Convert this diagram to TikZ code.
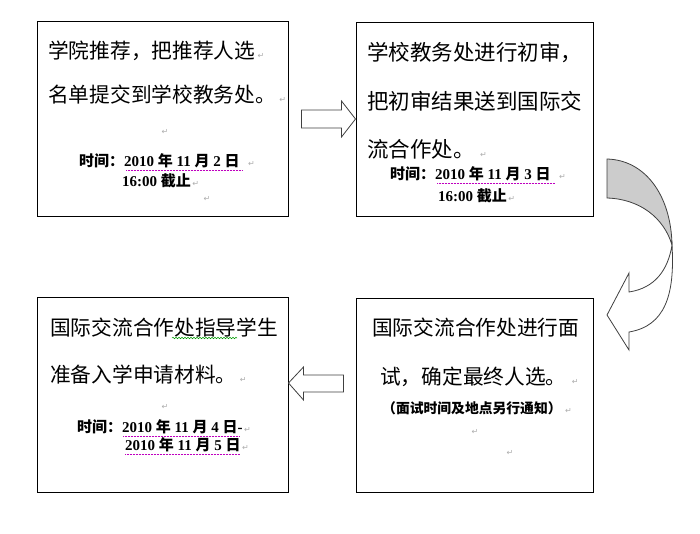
\documentclass[tikz,border=0pt]{standalone}
\usepackage{fontspec}
\setmainfont{Liberation Serif}
\newfontfamily\cjk{Noto Sans CJK SC}
\newfontfamily\sym{DejaVu Sans}
\usetikzlibrary{shapes.arrows,decorations.pathmorphing}
\newcommand\zh[1]{{\cjk #1}}

\tikzset{
  box/.style={draw, line width=1pt, inner sep=0pt},
  big/.style={anchor=base west, inner sep=0pt, font=\cjk\fontsize{20.7}{24}\selectfont},
  small/.style={anchor=base west, inner sep=0pt, font=\bfseries\fontsize{15}{18}\selectfont},
  pmark/.style={inner sep=0pt, text=gray!65, font=\sym\fontsize{8}{9}\selectfont},
  blk/.style={draw=black!75, line width=0.8pt, fill=white, line join=miter},
  spell/.style={densely dotted, line width=0.5pt, draw=violet!50!magenta},
}

\begin{document}
\begin{tikzpicture}[x=1pt,y=-1pt]
\useasboundingbox (0,0) rectangle (700,533);

\begin{scope}[scale=1]

% boxes
\node[box, minimum width=251pt, minimum height=195pt] (b1) at (162.5,118.5) {};
\node[box, minimum width=237pt, minimum height=194pt] (b2) at (474.5,119) {};
\node[box, minimum width=251pt, minimum height=195pt] (b3) at (162.5,394.5) {};
\node[box, minimum width=237pt, minimum height=194pt] (b4) at (474.5,395) {};

% box 1
\node[big] (a1) at (48,58) {学院推荐，把推荐人选};
\node[pmark, anchor=base west, xshift=2pt] at (a1.base east) {↵};
\node[big] (a2) at (48,102) {名单提交到学校教务处。};
\node[pmark, anchor=base west, xshift=3pt] at (a2.base east) {↵};
\node[pmark] at (165,132) {↵};
\node[small] (a3) at (79,166.5) {\zh{时间：}2010 \zh{年} 11 \zh{月} 2 \zh{日}};
\node[pmark, anchor=base west, xshift=8pt] at (a3.base east) {↵};
\node[small] (a4) at (122,186.5) {16:00 \zh{截止}};
\node[pmark, anchor=base west, xshift=1pt] at (a4.base east) {↵};
\node[pmark] at (207,199) {↵};
\draw[spell] (126,170.5) -- (243,170.5);

% box 2
\node[big, font=\cjk\fontsize{21.5}{24}\selectfont] (c1) at (367,60) {学校教务处进行初审，};
\node[big, font=\cjk\fontsize{21.5}{24}\selectfont] (c2) at (367,109) {把初审结果送到国际交};
\node[big, font=\cjk\fontsize{21.5}{24}\selectfont] (c3) at (367,157) {流合作处。};
\node[pmark, anchor=base west, xshift=5pt] at (c3.base east) {↵};
\node[small] (c4) at (390,179.5) {\zh{时间：}2010 \zh{年} 11 \zh{月} 3 \zh{日}};
\node[pmark, anchor=base west, xshift=8pt] at (c4.base east) {↵};
\node[small] (c5) at (438,201.5) {16:00 \zh{截止}};
\node[pmark, anchor=base west, xshift=1pt] at (c5.base east) {↵};
\draw[spell] (437,183.5) -- (555,183.5);

% box 3
\node[big] (d1) at (50,335) {国际交流合作处指导学生};
\node[big] (d2) at (50,382) {准备入学申请材料。};
\node[pmark, anchor=base west, xshift=3pt] at (d2.base east) {↵};
\node[pmark] at (165,407) {↵};
\node[small] (d3) at (77,432.5) {\zh{时间：}2010 \zh{年} 11 \zh{月} 4 \zh{日}-};
\node[pmark, anchor=base west, xshift=1pt] at (d3.base east) {↵};
\node[small] (d4) at (125,450.5) {2010 \zh{年} 11 \zh{月} 5 \zh{日}};
\node[pmark, anchor=base west, xshift=1pt] at (d4.base east) {↵};
\draw[spell] (123,436.5) -- (240,436.5);
\draw[spell] (125,454.5) -- (240,454.5);
\draw[green!60!black, line width=0.5pt, decorate, decoration={snake, amplitude=0.8pt, segment length=3pt}] (172,338) -- (237,338);

% box 4
\node[big] (e1) at (372,335) {国际交流合作处进行面};
\node[big] (e2) at (380,384) {试，确定最终人选。};
\node[pmark, anchor=base west, xshift=5pt] at (e2.base east) {↵};
\node[anchor=base west, inner sep=0pt, font=\cjk\bfseries\fontsize{13.8}{16}\selectfont] (e3) at (382,413) {（面试时间及地点另行通知）};
\node[pmark, anchor=base west, xshift=3pt] at (e3.base east) {↵};
\node[pmark] at (475,432) {↵};
\node[pmark] at (510,453) {↵};

% block arrows
\draw[blk] (b2.west) -- ++(-14,-18) -- ++(0,9) -- ++(-40,0) -- ++(0,18) -- ++(40,0) -- ++(0,9) -- cycle;
\coordinate (ltip) at (b3.east |- 0,383);
\draw[blk] (ltip) -- ++(15,-16) -- ++(0,8) -- ++(40,0) -- ++(0,17) -- ++(-40,0) -- ++(0,8) -- cycle;

% curved arrow
\draw[blk, fill=gray!40] (607,159) .. controls (645,160) and (671,195) .. (672,245)
  .. controls (664,218) and (640,199) .. (607,198) -- cycle;
\draw[blk] (672,245) .. controls (675,295) and (665,326) .. (629,332) -- (629,350) -- (607,315)
  -- (629,273) -- (629,292) .. controls (655,288) and (668,270) .. (672,245) -- cycle;

\end{scope};

\end{tikzpicture}
\end{document}
